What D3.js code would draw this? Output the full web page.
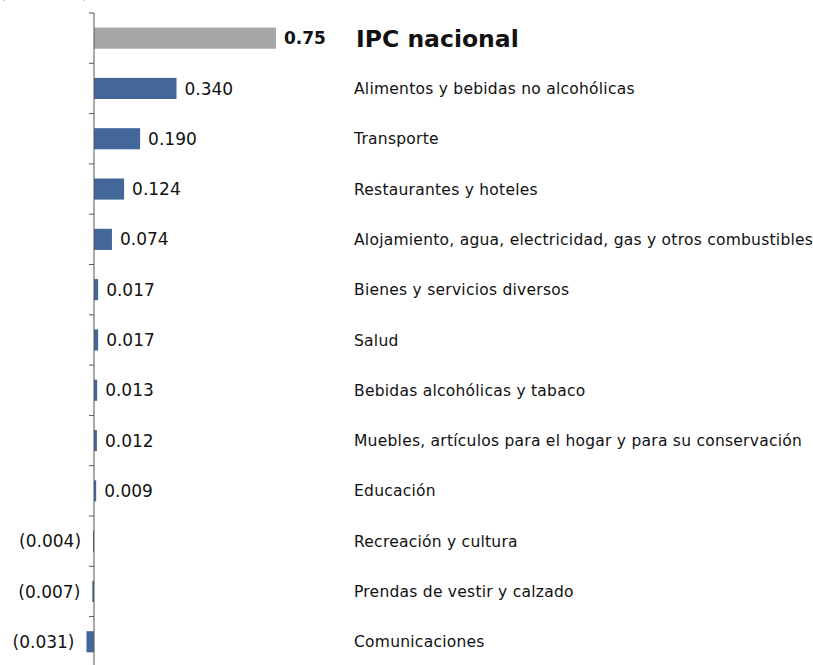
<!DOCTYPE html>
<html>
<head>
<meta charset="utf-8">
<script src="https://cdn.jsdelivr.net/npm/d3@7"></script>
<style>
    body { margin: 0; background: #fff; }
    text { font-family: "DejaVu Sans", Verdana, sans-serif; }
</style>
</head>
<body>
<div id="chart"></div>
<script>
// categories and contribution values (puntos porcentuales)
let categories = [
    "IPC nacional",
    "Alimentos y bebidas no alcohólicas",
    "Transporte",
    "Restaurantes y hoteles",
    "Alojamiento, agua, electricidad, gas y otros combustibles",
    "Bienes y servicios diversos",
    "Salud",
    "Bebidas alcohólicas y tabaco",
    "Muebles, artículos para el hogar y para su conservación",
    "Educación",
    "Recreación y cultura",
    "Prendas de vestir y calzado",
    "Comunicaciones"
];
let values = [0.75, 0.340, 0.190, 0.124, 0.074, 0.017, 0.017, 0.013, 0.012, 0.009, -0.004, -0.007, -0.031];
let valueLabels = ["0.75", "0.340", "0.190", "0.124", "0.074", "0.017", "0.017", "0.013", "0.012", "0.009", "(0.004)", "(0.007)", "(0.031)"];

let data = categories.map((c, i) => ({name: c, value: values[i], label: valueLabels[i], total: i === 0}));

let width = 813, height = 665;

let svg = d3.select("#chart").append("svg")
    .attr("width", width)
    .attr("height", height);

// scales
let x = d3.scaleLinear()
    .domain([0, 0.75])
    .range([94, 276]);

let y = d3.scaleBand()
    .domain(categories)
    .range([13, 13 + 13 * 50.3])
    .paddingInner(0.58)
    .paddingOuter(0.29);

// cut-off unit label at the top
svg.append("text")
    .attr("x", 0)
    .attr("y", -2)
    .attr("font-size", 15)
    .attr("fill", "#1f4e9a")
    .text("(incidencia)");

// bars
svg.selectAll(".bar")
    .data(data)
    .enter()
    .append("rect")
    .attr("class", "bar")
    .attr("x", d => x(Math.min(0, d.value)))
    .attr("y", d => y(d.name))
    .attr("width", d => Math.abs(x(d.value) - x(0)))
    .attr("height", y.bandwidth())
    .attr("fill", d => d.total ? "#a6a6a6" : "#436799");

// axis line with ticks between bands
let tickPos = d3.range(categories.length + 1).map(i => 13 + i * 50.3);
svg.append("line")
    .attr("x1", x(0)).attr("x2", x(0))
    .attr("y1", 13).attr("y2", height)
    .attr("stroke", "#555")
    .attr("stroke-width", 1);

svg.selectAll(".tick")
    .data(tickPos)
    .enter()
    .append("line")
    .attr("class", "tick")
    .attr("x1", x(0) - 5).attr("x2", x(0))
    .attr("y1", d => d).attr("y2", d => d)
    .attr("stroke", "#555");

// value labels
svg.selectAll(".val")
    .data(data)
    .enter()
    .append("text")
    .attr("class", "val")
    .attr("x", d => d.value >= 0 ? x(d.value) + 8 : x(d.value) - 12)
    .attr("y", d => y(d.name) + y.bandwidth() / 2)
    .attr("dy", "0.36em")
    .attr("text-anchor", d => d.value >= 0 ? "start" : "end")
    .attr("font-size", 17)
    .attr("font-weight", d => d.total ? "bold" : "normal")
    .attr("fill", "#111")
    .text(d => d.label);

// category names
svg.selectAll(".cat")
    .data(data)
    .enter()
    .append("text")
    .attr("class", "cat")
    .attr("x", d => d.total ? 356 : 354)
    .attr("y", d => y(d.name) + y.bandwidth() / 2)
    .attr("dy", "0.36em")
    .attr("font-size", d => d.total ? 23.5 : 15.5)
    .attr("letter-spacing", d => d.total ? 0 : 0.25)
    .attr("font-weight", d => d.total ? "bold" : "normal")
    .attr("fill", "#111")
    .text(d => d.name);
</script>
</body>
</html>
